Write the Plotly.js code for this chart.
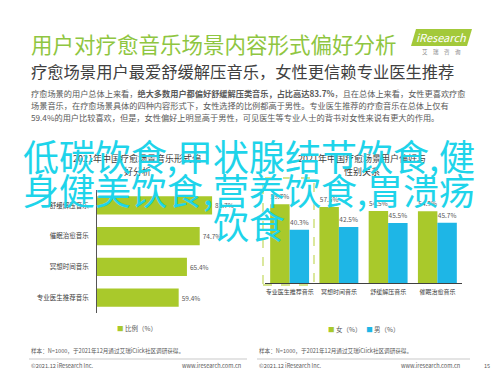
<!DOCTYPE html>
<html>
<head>
<meta charset="utf-8">
<script src="https://cdn.plot.ly/plotly-3.0.1.min.js"></script>
<style>
html,body{margin:0;padding:0;background:#fff;}
#chart{width:498px;height:374px;}
</style>
</head>
<body>
<div id="chart"></div>
<script>
// ---- data ----
const leftCategories = ['舒缓解压音乐', '催眠治愈音乐', '冥想时间音乐', '专业医生推荐音乐'];
const leftValues = [83.7, 74.7, 65.4, 59.4];
const rightCategories = ['专业医生推荐音乐', '冥想时间音乐', '舒缓解压音乐', '催眠治愈音乐'];
const femaleValues = [59.7, 57.5, 54.5, 54.3];
const maleValues = [40.3, 42.5, 45.5, 45.7];
const overlayLines = ['低碳饮食,甲状腺结节饮食,健', '身健美饮食,营养饮食,胃溃疡', '饮食'];

const W = 498, H = 374;
const px = v => v / W;
const py = v => 1 - v / H;
const FONT = 'Noto Sans CJK SC, Noto Sans, sans-serif';
const GREEN = '#A9C92B';
const BLUE = '#1EB6E6';
const GRAY = '#595959';

const traces = [
  {
    type: 'bar', orientation: 'h', name: '比例（%）',
    y: leftCategories, x: leftValues, xaxis: 'x', yaxis: 'y',
    marker: {color: GREEN}, width: 0.6,
    text: leftValues.map(v => v.toFixed(1) + '%'), textposition: 'outside',
    textfont: {family: FONT, size: 6.5, color: GRAY}, cliponaxis: false,
    showlegend: false, hoverinfo: 'skip'
  },
  {
    type: 'bar', name: '女（%）', x: rightCategories, y: femaleValues,
    xaxis: 'x2', yaxis: 'y2', marker: {color: GREEN},
    width: 0.395, offset: -0.395,
    text: femaleValues.map(v => v.toFixed(1) + '%'), textposition: 'outside',
    textfont: {family: FONT, size: 6.5, color: GRAY}, cliponaxis: false,
    showlegend: false, hoverinfo: 'skip'
  },
  {
    type: 'bar', name: '男（%）', x: rightCategories, y: maleValues,
    xaxis: 'x2', yaxis: 'y2', marker: {color: BLUE},
    width: 0.395, offset: 0,
    text: maleValues.map(v => v.toFixed(1) + '%'), textposition: 'outside',
    textfont: {family: FONT, size: 6.5, color: GRAY}, cliponaxis: false,
    showlegend: false, hoverinfo: 'skip'
  }
];

function ann(text, x, y, size, color, xanchor, extra) {
  return Object.assign({
    text: text, x: px(x), y: py(y), xref: 'paper', yref: 'paper',
    xanchor: xanchor || 'left', yanchor: 'middle', showarrow: false,
    font: {family: FONT, size: size, color: color}
  }, extra || {});
}

const annotations = [
  ann('用户对疗愈音乐场景内容形式偏好分析', 29, 43, 21.5, '#8FC641'),
  ann('疗愈场景用户最爱舒缓解压音乐，女性更信赖专业医生推荐', 29, 71, 16.3, '#404040'),
  ann('疗愈场景的用户总体上来看，<b>绝大多数用户都偏好舒缓解压类音乐，占比高达83.7%</b>，且在总体上来看，女性更喜欢疗愈', 29, 93, 8.2, GRAY),
  ann('场景音乐，在疗愈场景具体的四种内容形式下，女性选择的比例都高于男性。专业医生推荐的疗愈音乐在总体上仅有', 29, 105, 8.2, GRAY),
  ann('59.4%的用户比较喜欢，但是，女性偏好上明显高于男性，可见医生等专业人士的背书对女性来说有更大的作用。', 29, 117, 8.2, GRAY),
  // logo
  ann('<i>iResearch</i>', 441, 37.5, 11, '#ffffff', 'center'),
  ann('艾　瑞　咨　询', 441, 52, 5.5, '#888888', 'center'),
  // chart titles
  ann('2021年中国疗愈场景音乐形式偏', 137, 158, 9, '#404040', 'center'),
  ann('好分析', 137, 171, 9, '#404040', 'center'),
  ann('2021年中国疗愈场景用户偏好与', 362, 158, 9, '#404040', 'center'),
  ann('性别关系', 362, 171, 9, '#404040', 'center'),
  // legends
  ann('<span style="color:' + GREEN + '">■</span> 比例（%）', 137, 328, 6.5, GRAY, 'center'),
  ann('<span style="color:' + GREEN + '">■</span> 女（%）　 <span style="color:' + BLUE + '">■</span> 男（%）', 364, 329, 6.5, GRAY, 'center'),
  // footers
  ann('样本：N=1000，于2021年12月通过艾瑞iClick社区调研获得。', 29, 351, 5.6, GRAY),
  ann('©2021.12 iResearch Inc.', 29, 366, 5.6, GRAY),
  ann('www.iresearch.com.cn', 243, 366, 5.6, GRAY, 'right'),
  ann('样本：N=1000，于2021年12月通过艾瑞iClick社区调研获得。', 257, 351, 5.6, GRAY),
  ann('©2021.12 iResearch Inc.', 257, 366, 5.6, GRAY),
  ann('www.iresearch.com.cn', 462, 366, 5.6, GRAY, 'right'),
  ann('15', 487, 366, 5.6, GRAY, 'center')
];

// overlay text (three lines)
const overlayY = [155, 189, 223];
overlayLines.forEach((t, i) => {
  annotations.push(ann(t, 249, overlayY[i], 36, '#1ED4EA', 'center'));
});

const shapes = [
  // logo parallelogram
  {type: 'path', xref: 'paper', yref: 'paper', line: {width: 0}, fillcolor: '#A3C93A', layer: 'below',
   path: 'M ' + px(411) + ' ' + py(46) + ' L ' + px(416) + ' ' + py(29) + ' L ' + px(472) + ' ' + py(29) + ' L ' + px(467) + ' ' + py(46) + ' Z'},
  // dashed highlight box
  {type: 'rect', xref: 'paper', yref: 'paper', x0: px(263), x1: px(314), y0: py(285), y1: py(178),
   line: {color: '#C8DC6A', width: 1.3, dash: 'dash'}, fillcolor: 'rgba(0,0,0,0)', layer: 'above'},
  // footer rules
  {type: 'line', xref: 'paper', yref: 'paper', x0: px(29), x1: px(247), y0: py(359), y1: py(359), line: {color: '#BBBBBB', width: 0.8}},
  {type: 'line', xref: 'paper', yref: 'paper', x0: px(257), x1: px(470), y0: py(359), y1: py(359), line: {color: '#BBBBBB', width: 0.8}}
];

const layout = {
  width: W, height: H,
  margin: {l: 0, r: 0, t: 0, b: 0},
  paper_bgcolor: '#ffffff', plot_bgcolor: 'rgba(0,0,0,0)',
  showlegend: false,
  barmode: 'group',
  font: {family: FONT, color: GRAY},
  xaxis: {domain: [px(97), px(234.5)], range: [0, 100], visible: false, fixedrange: true},
  yaxis: {domain: [py(313), py(190)], type: 'category', categoryorder: 'array', categoryarray: leftCategories,
          autorange: 'reversed', showline: true, linecolor: '#555555', linewidth: 1,
          showgrid: false, zeroline: false, ticks: 'outside', ticklen: 6, tickcolor: 'rgba(0,0,0,0)',
          tickfont: {family: FONT, size: 6.5, color: '#404040'}, anchor: 'x', fixedrange: true},
  xaxis2: {domain: [px(265), px(462)], type: 'category', categoryorder: 'array', categoryarray: rightCategories,
           showline: true, linecolor: '#404040', linewidth: 1, showgrid: false, zeroline: false,
           ticks: 'outside', ticklen: 3, tickcolor: 'rgba(0,0,0,0)', tickangle: 0,
           tickfont: {family: FONT, size: 6, color: '#404040'}, anchor: 'y2', fixedrange: true},
  yaxis2: {domain: [py(283), py(177.4)], range: [0, 80], visible: false, anchor: 'x2', fixedrange: true},
  annotations: annotations,
  shapes: shapes
};

Plotly.newPlot('chart', traces, layout, {displayModeBar: false, staticPlot: true});
</script>
</body>
</html>
